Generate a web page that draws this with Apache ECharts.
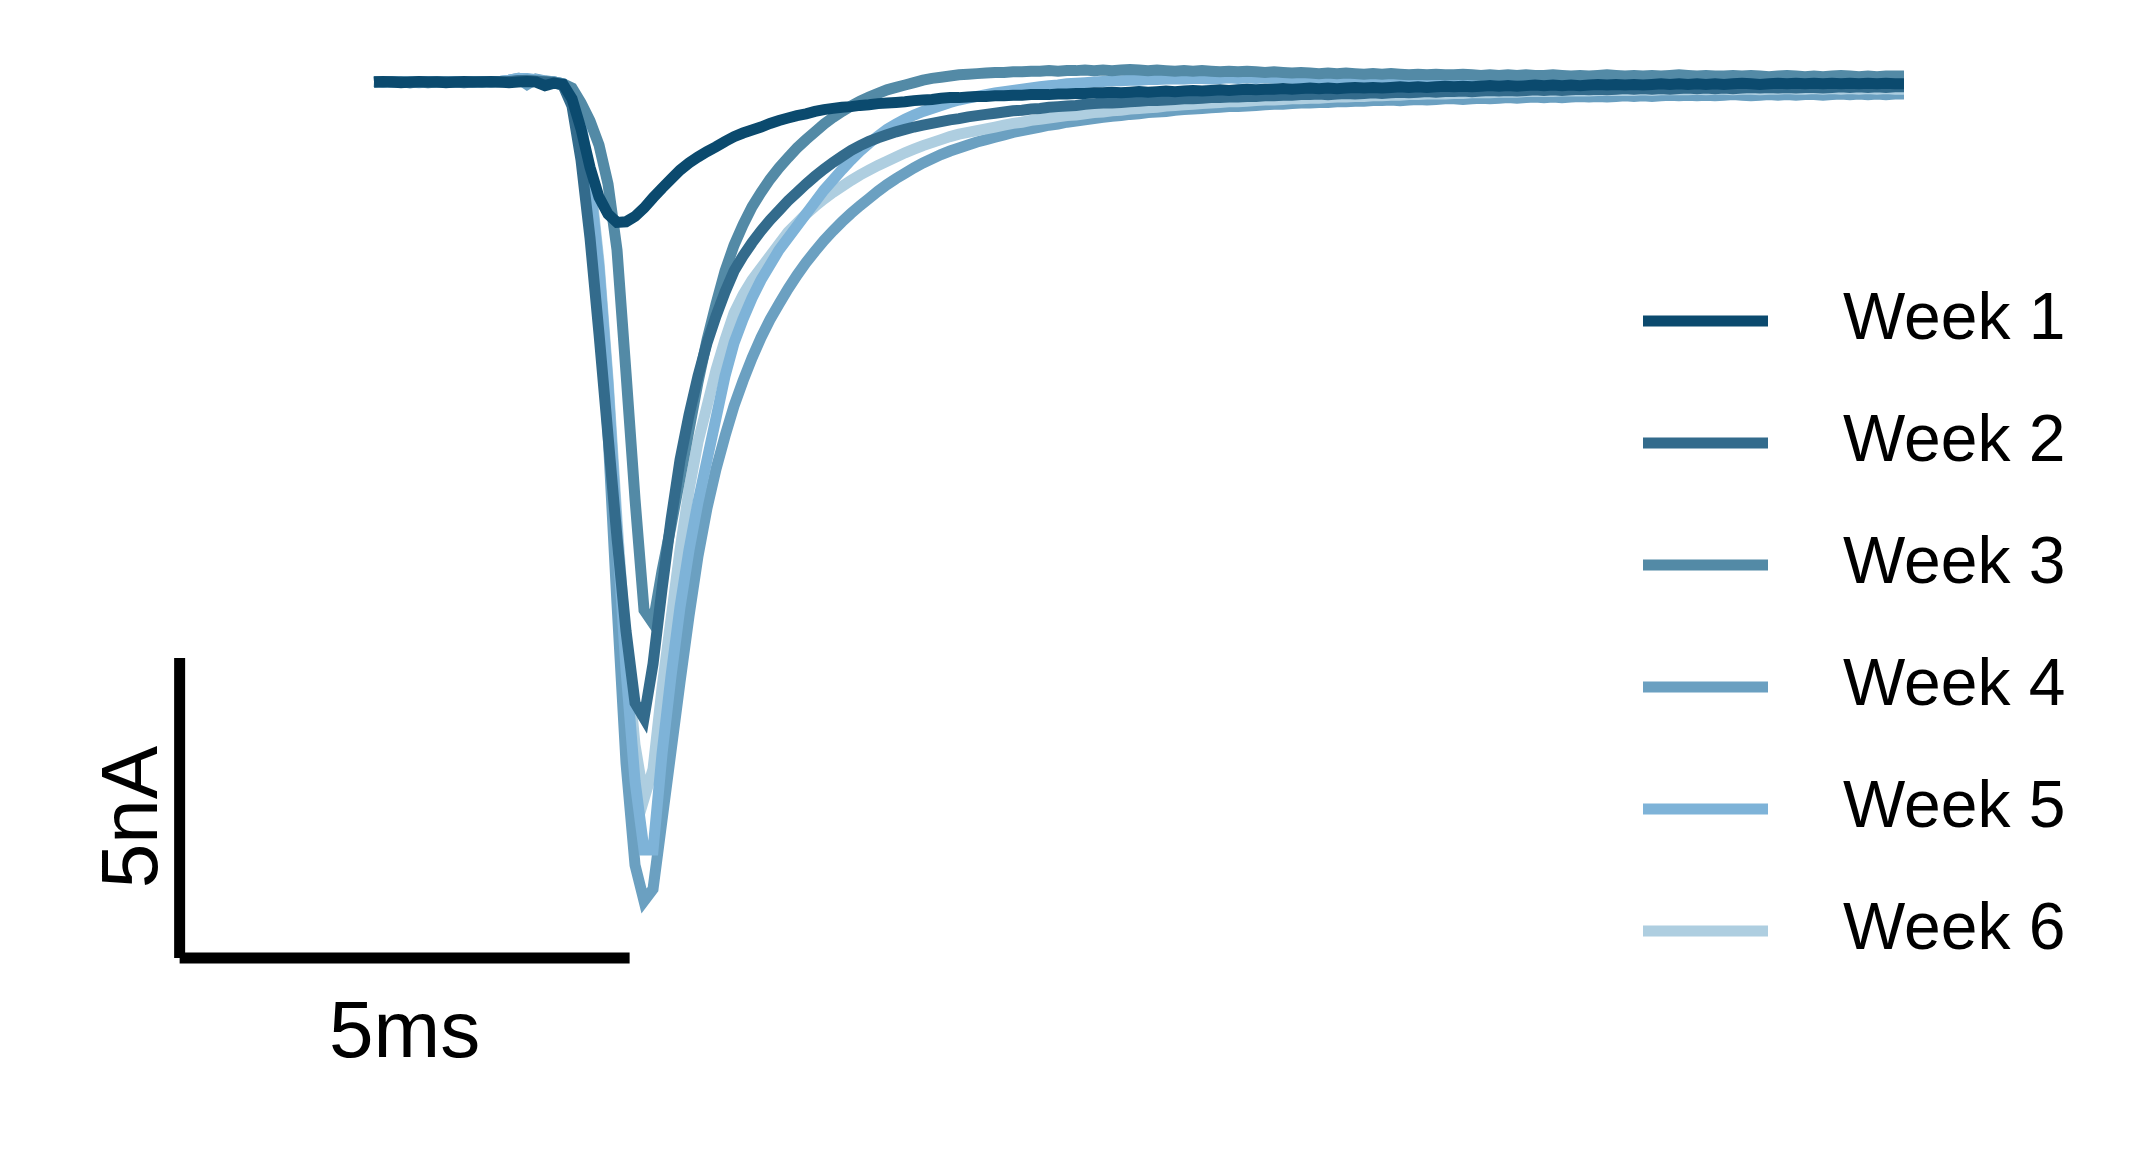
<!DOCTYPE html>
<html><head><meta charset="utf-8">
<script src="https://cdn.jsdelivr.net/npm/echarts@6/dist/echarts.min.js"></script>
<style>html,body{margin:0;padding:0;background:#fff}#c{width:2153px;height:1158px}</style>
</head><body><div id="c"></div>
<script>
const weekNames = ['Week 1','Week 2','Week 3','Week 4','Week 5','Week 6'];
const weekColors = ['#0b4a6e','#336b8c','#538aa6','#6ba0c1','#7eb3d8','#aecee0'];
const DT = 0.1; // ms per sample

const week1 = [
 0.00, 0.01, 0.00,-0.01, 0.00, 0.01, 0.00, 0.00,-0.01, 0.00,
 0.01, 0.00, 0.00, 0.01, 0.00,-0.01, 0.00, 0.01, 0.00,-0.06,
-0.02,-0.04,-0.28,-0.78,-1.42,-1.92,-2.20,-2.34,-2.33,-2.24,
-2.10,-1.93,-1.77,-1.62,-1.47,-1.35,-1.25,-1.16,-1.08,-0.99,
-0.91,-0.85,-0.80,-0.75,-0.69,-0.64,-0.60,-0.56,-0.53,-0.49,
-0.46,-0.44,-0.42,-0.41,-0.39,-0.38,-0.36,-0.35,-0.34,-0.33,
-0.31,-0.30,-0.29,-0.27,-0.26,-0.26,-0.25,-0.24,-0.24,-0.23,
-0.23,-0.22,-0.22,-0.21,-0.21,-0.21,-0.20,-0.20,-0.19,-0.19,
-0.18,-0.18,-0.17,-0.18,-0.17,-0.16,-0.17,-0.16,-0.15,-0.16,
-0.15,-0.14,-0.15,-0.14,-0.13,-0.14,-0.13,-0.12,-0.13,-0.12,
-0.12,-0.11,-0.12,-0.11,-0.10,-0.11,-0.10,-0.11,-0.10,-0.09,
-0.10,-0.09,-0.10,-0.09,-0.08,-0.09,-0.08,-0.09,-0.08,-0.07,
-0.08,-0.07,-0.08,-0.07,-0.06,-0.07,-0.06,-0.07,-0.06,-0.05,
-0.06,-0.05,-0.06,-0.05,-0.06,-0.05,-0.04,-0.05,-0.04,-0.05,
-0.04,-0.05,-0.04,-0.03,-0.04,-0.03,-0.04,-0.03,-0.04,-0.03,
-0.04,-0.03,-0.02,-0.03,-0.04,-0.03,-0.02,-0.03,-0.02,-0.03,
-0.02,-0.03,-0.02,-0.03,-0.02,-0.03,-0.02,-0.03,-0.02,-0.03,
-0.03];

const week2 = [
 0.00, 0.00, 0.01, 0.00,-0.01, 0.00, 0.00, 0.01, 0.00, 0.00,
-0.01, 0.00, 0.01, 0.00, 0.00, 0.01, 0.02, 0.02, 0.01, 0.00,
-0.01,-0.06,-0.40,-1.30,-2.60,-4.20,-5.90,-7.60,-9.15,-10.35,
-10.60,-9.70,-8.45,-7.30,-6.30,-5.55,-4.90,-4.35,-3.90,-3.50,
-3.15,-2.90,-2.68,-2.48,-2.30,-2.14,-1.98,-1.84,-1.70,-1.57,
-1.45,-1.34,-1.24,-1.14,-1.06,-0.99,-0.93,-0.88,-0.83,-0.79,
-0.75,-0.72,-0.69,-0.66,-0.63,-0.61,-0.58,-0.56,-0.54,-0.52,
-0.50,-0.48,-0.47,-0.45,-0.44,-0.42,-0.41,-0.40,-0.39,-0.37,
-0.36,-0.35,-0.35,-0.34,-0.33,-0.32,-0.31,-0.31,-0.30,-0.29,
-0.28,-0.28,-0.27,-0.26,-0.26,-0.25,-0.25,-0.24,-0.24,-0.23,
-0.23,-0.22,-0.22,-0.21,-0.21,-0.20,-0.21,-0.20,-0.19,-0.20,
-0.19,-0.18,-0.19,-0.18,-0.17,-0.18,-0.17,-0.16,-0.17,-0.16,
-0.16,-0.15,-0.16,-0.15,-0.14,-0.15,-0.14,-0.15,-0.14,-0.13,
-0.14,-0.13,-0.14,-0.13,-0.12,-0.13,-0.12,-0.13,-0.12,-0.11,
-0.12,-0.11,-0.12,-0.11,-0.12,-0.11,-0.10,-0.11,-0.10,-0.11,
-0.10,-0.11,-0.10,-0.09,-0.10,-0.09,-0.10,-0.09,-0.10,-0.09,
-0.09,-0.10,-0.09,-0.08,-0.09,-0.08,-0.09,-0.08,-0.09,-0.08,
-0.08];

const week3 = [
 0.01, 0.00, 0.00, 0.01, 0.00, 0.00,-0.01, 0.00, 0.01, 0.00,
 0.00, 0.01, 0.00, 0.00, 0.01, 0.00, 0.02, 0.03, 0.02, 0.01,
 0.00,-0.03,-0.10,-0.35,-0.65,-1.05,-1.70,-2.80,-4.85,-6.95,
-8.80,-9.02,-8.15,-7.40,-6.60,-5.80,-5.00,-4.30,-3.70,-3.15,
-2.72,-2.38,-2.08,-1.84,-1.62,-1.43,-1.26,-1.10,-0.96,-0.83,
-0.70,-0.59,-0.49,-0.40,-0.32,-0.25,-0.19,-0.13,-0.09,-0.05,
-0.01, 0.03, 0.06, 0.08, 0.10, 0.12, 0.13, 0.14, 0.15, 0.16,
 0.16, 0.17, 0.17, 0.18, 0.18, 0.19, 0.18, 0.19, 0.19, 0.20,
 0.19, 0.20, 0.19, 0.20, 0.21, 0.20, 0.19, 0.20, 0.19, 0.18,
 0.19, 0.18, 0.19, 0.18, 0.17, 0.18, 0.17, 0.18, 0.17, 0.16,
 0.17, 0.16, 0.15, 0.16, 0.15, 0.14, 0.15, 0.14, 0.15, 0.14,
 0.13, 0.14, 0.13, 0.14, 0.13, 0.12, 0.13, 0.12, 0.13, 0.12,
 0.12, 0.13, 0.12, 0.11, 0.12, 0.11, 0.12, 0.11, 0.12, 0.11,
 0.11, 0.12, 0.11, 0.10, 0.11, 0.10, 0.11, 0.12, 0.11, 0.10,
 0.11, 0.10, 0.11, 0.10, 0.11, 0.12, 0.11, 0.10, 0.11, 0.10,
 0.10, 0.11, 0.10, 0.11, 0.10, 0.09, 0.10, 0.11, 0.10, 0.09,
 0.10, 0.09, 0.10, 0.11, 0.10, 0.09, 0.10, 0.09, 0.10, 0.10,
 0.10];

const week4 = [
 0.00, 0.01, 0.00, 0.00,-0.01, 0.00, 0.01, 0.00, 0.00, 0.01,
 0.00, 0.00, 0.01, 0.00, 0.01, 0.03, 0.06,-0.04, 0.05, 0.02,
 0.00,-0.03,-0.20,-0.90,-2.00,-3.60,-5.85,-8.70,-11.35,-13.05,
-13.65,-13.45,-12.30,-11.15,-10.00,-8.90,-7.90,-7.10,-6.45,-5.90,
-5.40,-4.98,-4.60,-4.26,-3.96,-3.70,-3.45,-3.22,-3.01,-2.82,
-2.64,-2.48,-2.33,-2.19,-2.06,-1.94,-1.82,-1.71,-1.61,-1.52,
-1.43,-1.35,-1.28,-1.21,-1.15,-1.10,-1.05,-1.00,-0.96,-0.92,
-0.88,-0.84,-0.81,-0.78,-0.75,-0.72,-0.70,-0.67,-0.65,-0.63,
-0.61,-0.59,-0.57,-0.56,-0.54,-0.53,-0.51,-0.50,-0.49,-0.47,
-0.46,-0.45,-0.44,-0.43,-0.42,-0.41,-0.41,-0.40,-0.39,-0.38,
-0.37,-0.37,-0.36,-0.35,-0.35,-0.34,-0.34,-0.33,-0.33,-0.32,
-0.32,-0.31,-0.31,-0.30,-0.31,-0.30,-0.29,-0.30,-0.29,-0.28,
-0.28,-0.29,-0.28,-0.27,-0.28,-0.27,-0.26,-0.27,-0.26,-0.25,
-0.26,-0.25,-0.26,-0.25,-0.24,-0.25,-0.24,-0.25,-0.24,-0.23,
-0.24,-0.23,-0.24,-0.23,-0.22,-0.23,-0.22,-0.23,-0.22,-0.23,
-0.22,-0.21,-0.22,-0.23,-0.22,-0.21,-0.22,-0.21,-0.22,-0.21,
-0.21,-0.22,-0.21,-0.20,-0.21,-0.20,-0.21,-0.20,-0.21,-0.20,
-0.20];

const week5 = [
 0.00, 0.00, 0.01, 0.00, 0.00,-0.01, 0.00, 0.01, 0.00, 0.00,
 0.01, 0.00, 0.00, 0.01, 0.01, 0.03, 0.06, 0.06, 0.04, 0.01,
 0.00,-0.03,-0.15,-0.70,-1.70,-3.10,-5.05,-7.50,-9.80,-11.65,
-12.80,-12.80,-11.20,-9.90,-8.75,-7.80,-7.00,-6.30,-5.60,-4.90,
-4.35,-3.95,-3.60,-3.30,-3.05,-2.80,-2.60,-2.40,-2.20,-2.00,
-1.80,-1.63,-1.46,-1.30,-1.15,-1.02,-0.90,-0.79,-0.70,-0.62,
-0.55,-0.49,-0.44,-0.39,-0.34,-0.30,-0.27,-0.24,-0.21,-0.18,
-0.16,-0.14,-0.12,-0.10,-0.08,-0.06,-0.05,-0.03,-0.02,-0.01,
 0.00, 0.01, 0.02, 0.02, 0.03, 0.03, 0.04, 0.04, 0.05, 0.05,
 0.05, 0.06, 0.06, 0.05, 0.06, 0.07, 0.06, 0.07, 0.06, 0.07,
 0.06, 0.07, 0.06, 0.05, 0.06, 0.05, 0.06, 0.05, 0.06, 0.05,
 0.05, 0.04, 0.05, 0.04, 0.05, 0.04, 0.05, 0.04, 0.03, 0.04,
 0.03, 0.04, 0.03, 0.04, 0.03, 0.02, 0.03, 0.02, 0.03, 0.02,
 0.02, 0.03, 0.02, 0.01, 0.02, 0.01, 0.02, 0.01, 0.02, 0.01,
 0.01, 0.02, 0.01, 0.00, 0.01, 0.00, 0.01, 0.00, 0.01, 0.00,
 0.00, 0.01, 0.00,-0.01, 0.00,-0.01, 0.00,-0.01, 0.00,-0.01,
-0.01, 0.00,-0.01,-0.02,-0.01,-0.02,-0.01,-0.02,-0.01,-0.02,
-0.02];

const week6 = [
 0.00, 0.01, 0.00, 0.00, 0.01, 0.00,-0.01, 0.00, 0.00, 0.01,
 0.00, 0.00, 0.01, 0.01, 0.01, 0.02, 0.05, 0.05, 0.03, 0.01,
 0.00,-0.03,-0.15,-0.70,-1.60,-3.00,-4.95,-7.30,-9.45,-11.05,
-11.95,-11.45,-10.10,-8.95,-7.80,-6.80,-6.00,-5.40,-4.80,-4.30,
-3.85,-3.55,-3.30,-3.10,-2.90,-2.70,-2.50,-2.35,-2.20,-2.07,
-1.95,-1.84,-1.74,-1.64,-1.55,-1.47,-1.39,-1.32,-1.25,-1.18,
-1.12,-1.06,-1.01,-0.96,-0.91,-0.87,-0.84,-0.81,-0.78,-0.75,
-0.72,-0.69,-0.67,-0.64,-0.62,-0.60,-0.58,-0.56,-0.55,-0.53,
-0.51,-0.50,-0.48,-0.47,-0.45,-0.44,-0.43,-0.42,-0.40,-0.39,
-0.38,-0.37,-0.36,-0.35,-0.34,-0.33,-0.33,-0.32,-0.31,-0.30,
-0.30,-0.29,-0.28,-0.28,-0.27,-0.27,-0.26,-0.25,-0.25,-0.24,
-0.24,-0.23,-0.23,-0.22,-0.22,-0.21,-0.21,-0.20,-0.20,-0.20,
-0.19,-0.19,-0.18,-0.18,-0.18,-0.17,-0.17,-0.17,-0.16,-0.16,
-0.16,-0.16,-0.15,-0.15,-0.15,-0.15,-0.14,-0.14,-0.14,-0.14,
-0.14,-0.13,-0.14,-0.13,-0.13,-0.13,-0.13,-0.12,-0.13,-0.12,
-0.12,-0.13,-0.12,-0.12,-0.13,-0.12,-0.12,-0.11,-0.12,-0.12,
-0.11,-0.12,-0.11,-0.12,-0.11,-0.12,-0.11,-0.12,-0.11,-0.12,
-0.12];

const weekValues = [week1, week2, week3, week4, week5, week6];

// scale bar: 5 ms horizontal, 5 nA vertical (data units)
const scaleBarTime = [-2.16, 2.84];
const scaleBarCurrent = [-9.6, -14.6];
const scaleLabels = ['5ms', '5nA'];

// visible data window (ms, nA)
const xRange = [-4.156, 19.767];
const yRange = [-17.933, 1.367];

const FONT = '"Liberation Sans", Arial, Helvetica, sans-serif';
const LINE_W = 11;
const drawOrder = [3, 5, 4, 2, 1, 0]; // Week 4 bottom ... Week 1 on top

const chart = echarts.init(document.getElementById('c'), null, {renderer: 'canvas'});

const traceSeries = drawOrder.map(i => ({
  name: weekNames[i],
  type: 'line',
  data: weekValues[i].map((v, k) => [+(k * DT).toFixed(1), v]),
  showSymbol: false,
  symbol: 'none',
  smooth: false,
  color: weekColors[i],
  lineStyle: {width: LINE_W, color: weekColors[i], cap: 'butt', join: 'miter'},
  silent: true,
  z: 2
}));

const x0 = scaleBarTime[0], x1 = scaleBarTime[1];
const yTop = scaleBarCurrent[0], yBot = scaleBarCurrent[1];
const labelGapX = 0.5;   // ms left of the vertical bar
const labelGapY = 1.28;  // nA below the horizontal bar

const barStyle = {width: LINE_W, color: '#000', cap: 'butt'};
const labelStyle = {show: true, position: 'inside', fontSize: 80, color: '#000', opacity: 1,
                    fontFamily: FONT, textBorderWidth: 0, textShadowBlur: 0};
const scaleSeries = [
  {type: 'line', data: [[x0, yBot], [x1, yBot]], showSymbol: false, symbol: 'none', lineStyle: barStyle, silent: true, z: 3},
  {type: 'line', data: [[x0, yTop], [x0, yBot]], showSymbol: false, symbol: 'none', lineStyle: barStyle, silent: true, z: 3},
  {type: 'scatter', symbolSize: 0, silent: true, z: 4, itemStyle: {color: '#000', opacity: 1},
   data: [[(x0 + x1) / 2, yBot - labelGapY]],
   label: Object.assign({}, labelStyle, {formatter: scaleLabels[0]})},
  {type: 'scatter', symbolSize: 0, silent: true, z: 4, itemStyle: {color: '#000', opacity: 1},
   data: [[x0 - labelGapX, (yTop + yBot) / 2 - 0.15]],
   label: Object.assign({}, labelStyle, {formatter: scaleLabels[1], rotate: 90})}
];

chart.setOption({
  animation: false,
  backgroundColor: '#fff',
  grid: {left: 0, right: 0, top: 0, bottom: 0, containLabel: false},
  xAxis: {type: 'value', min: xRange[0], max: xRange[1], show: false},
  yAxis: {type: 'value', min: yRange[0], max: yRange[1], show: false},
  legend: {
    data: weekNames,
    orient: 'vertical',
    left: 1638,
    top: 283,
    icon: 'rect',
    itemWidth: 125,
    itemHeight: 11,
    itemGap: 56,
    selectedMode: false,
    textStyle: {fontSize: 66, color: '#000', fontFamily: FONT, lineHeight: 66, padding: [0, 0, 0, 70]}
  },
  series: traceSeries.concat(scaleSeries)
});
</script>
</body></html>
